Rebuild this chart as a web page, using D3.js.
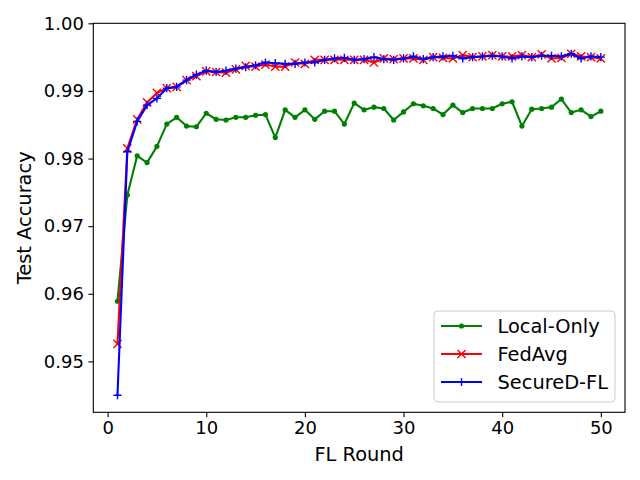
<!DOCTYPE html>
<html>
<head>
<meta charset="utf-8">
<script src="https://cdn.jsdelivr.net/npm/d3@7"></script>
<style>
  body { margin: 0; background: #fff; }
  svg text { font-family: "DejaVu Sans", sans-serif; fill: #000; }
</style>
</head>
<body>
<script>
// accuracy per FL round
const rounds = d3.range(1, 51);
const localOnly = [0.9589, 0.9746, 0.9804, 0.9794, 0.9818, 0.9851, 0.9861, 0.9848, 0.9847, 0.9867,
                   0.9858, 0.9857, 0.9861, 0.9861, 0.9864, 0.9865, 0.9831, 0.9872, 0.9861, 0.9872,
                   0.9858, 0.9870, 0.9870, 0.9851, 0.9882, 0.9872, 0.9876, 0.9874, 0.9857, 0.9869,
                   0.9881, 0.9878, 0.9874, 0.9865, 0.9879, 0.9868, 0.9874, 0.9874, 0.9874, 0.9881,
                   0.9884, 0.9848, 0.9873, 0.9874, 0.9876, 0.9888, 0.9868, 0.9872, 0.9862, 0.9870];
const fedAvg = [0.9526, 0.9815, 0.9858, 0.9883, 0.9897, 0.9904, 0.9906, 0.9916, 0.9922, 0.9929,
                0.9928, 0.9927, 0.9932, 0.9937, 0.9936, 0.9939, 0.9936, 0.9936, 0.9942, 0.9940,
                0.9946, 0.9946, 0.9946, 0.9946, 0.9946, 0.9946, 0.9942, 0.9948, 0.9947, 0.9948,
                0.9948, 0.9946, 0.9950, 0.9949, 0.9948, 0.9953, 0.9950, 0.9951, 0.9953, 0.9951,
                0.9951, 0.9953, 0.9950, 0.9954, 0.9948, 0.9949, 0.9955, 0.9951, 0.9950, 0.9948];
const securedFL = [0.9450, 0.9810, 0.9855, 0.9879, 0.9889, 0.9904, 0.9906, 0.9916, 0.9924, 0.9930,
                   0.9928, 0.9930, 0.9933, 0.9935, 0.9938, 0.9942, 0.9941, 0.9940, 0.9940, 0.9942,
                   0.9942, 0.9946, 0.9948, 0.9949, 0.9946, 0.9947, 0.9950, 0.9947, 0.9946, 0.9948,
                   0.9951, 0.9947, 0.9950, 0.9951, 0.9952, 0.9948, 0.9950, 0.9951, 0.9952, 0.9951,
                   0.9948, 0.9951, 0.9950, 0.9952, 0.9952, 0.9951, 0.9955, 0.9948, 0.9951, 0.9950];
const seriesNames = ["Local-Only", "FedAvg", "SecureD-FL"];
const xTicks = [0, 10, 20, 30, 40, 50];
const yTicks = [0.95, 0.96, 0.97, 0.98, 0.99, 1.00];

const width = 640, height = 480;
const margin = {left: 93.3, right: 15, top: 23.3, bottom: 67.7};

const svg = d3.select("body").append("svg")
    .attr("width", width)
    .attr("height", height);

// matplotlib style 5% margins on x, y top pinned to 1.0
const allVals = localOnly.concat(fedAvg, securedFL);
const yMin = d3.min(allVals), yMax = d3.max(allVals);
const x = d3.scaleLinear()
    .domain([1 - 0.05 * 49, 50 + 0.05 * 49])
    .range([margin.left, width - margin.right]);
const y = d3.scaleLinear()
    .domain([yMin - 0.05 * (yMax - yMin), 1.0])
    .range([height - margin.bottom, margin.top]);

svg.append("defs").append("clipPath").attr("id", "plot")
  .append("rect")
    .attr("x", margin.left).attr("y", margin.top)
    .attr("width", width - margin.left - margin.right)
    .attr("height", height - margin.top - margin.bottom);

// axes
const xAxis = svg.append("g")
    .attr("transform", `translate(0,${height - margin.bottom})`)
    .call(d3.axisBottom(x).tickValues(xTicks).tickSize(4.9).tickPadding(4.5).tickFormat(d3.format("d")));
const yAxis = svg.append("g")
    .attr("transform", `translate(${margin.left},0)`)
    .call(d3.axisLeft(y).tickValues(yTicks).tickSize(4.9).tickPadding(4.5).tickFormat(d3.format(".2f")));
[xAxis, yAxis].forEach(g => {
  g.select(".domain").remove();
  g.selectAll(".tick line").attr("stroke", "#000").attr("stroke-width", 1.1);
  g.selectAll(".tick text").attr("font-size", 18).attr("font-family", "DejaVu Sans");
});

// spines
svg.append("rect")
    .attr("x", margin.left).attr("y", margin.top)
    .attr("width", width - margin.left - margin.right)
    .attr("height", height - margin.top - margin.bottom)
    .attr("fill", "none").attr("stroke", "#000").attr("stroke-width", 1.1);

svg.append("text")
    .attr("x", (margin.left + width - margin.right) / 2)
    .attr("y", 461)
    .attr("text-anchor", "middle")
    .attr("font-size", 19.4)
    .text("FL Round");

svg.append("text")
    .attr("transform", `translate(31,${(margin.top + height - margin.bottom) / 2}) rotate(-90)`)
    .attr("text-anchor", "middle")
    .attr("font-size", 19.4)
    .text("Test Accuracy");

// series
const line = d3.line().x((d, i) => x(rounds[i])).y(d => y(d));
const plot = svg.append("g").attr("clip-path", "url(#plot)");
const crossPath = "M-4.1,-4.1L4.1,4.1M-4.1,4.1L4.1,-4.1";
const plusPath = "M-4.1,0H4.1M0,-4.1V4.1";

const series = [
  {name: seriesNames[0], values: localOnly, color: "#008000", marker: "dot"},
  {name: seriesNames[1], values: fedAvg, color: "#ff0000", marker: crossPath},
  {name: seriesNames[2], values: securedFL, color: "#0000ff", marker: plusPath}
];

function drawMarker(g, s, cx, cy) {
  if (s.marker === "dot") {
    g.append("circle").attr("cx", cx).attr("cy", cy).attr("r", 2.6).attr("fill", s.color);
  } else {
    g.append("path")
        .attr("transform", `translate(${cx},${cy})`)
        .attr("d", s.marker)
        .attr("stroke", s.color).attr("stroke-width", 1.4).attr("fill", "none");
  }
}

series.forEach(s => {
  plot.append("path")
      .datum(s.values)
      .attr("d", line)
      .attr("fill", "none")
      .attr("stroke", s.color)
      .attr("stroke-width", 2.1)
      .attr("stroke-linejoin", "round");
  const mg = plot.append("g");
  s.values.forEach((v, i) => drawMarker(mg, s, x(rounds[i]), y(v)));
});

// legend
const legend = svg.append("g");
legend.append("rect")
    .attr("x", 434).attr("y", 311)
    .attr("width", 181).attr("height", 91)
    .attr("rx", 4).attr("ry", 4)
    .attr("fill", "#fff").attr("fill-opacity", 0.8)
    .attr("stroke", "#cccccc").attr("stroke-width", 1);
series.forEach((s, i) => {
  const cy = 326 + i * 28;
  legend.append("line")
      .attr("x1", 441).attr("x2", 482)
      .attr("y1", cy).attr("y2", cy)
      .attr("stroke", s.color).attr("stroke-width", 2.1);
  drawMarker(legend, s, 461.5, cy);
  legend.append("text")
      .attr("x", 497.5).attr("y", cy + 7)
      .attr("font-size", 19.4)
      .text(s.name);
});
</script>
</body>
</html>
